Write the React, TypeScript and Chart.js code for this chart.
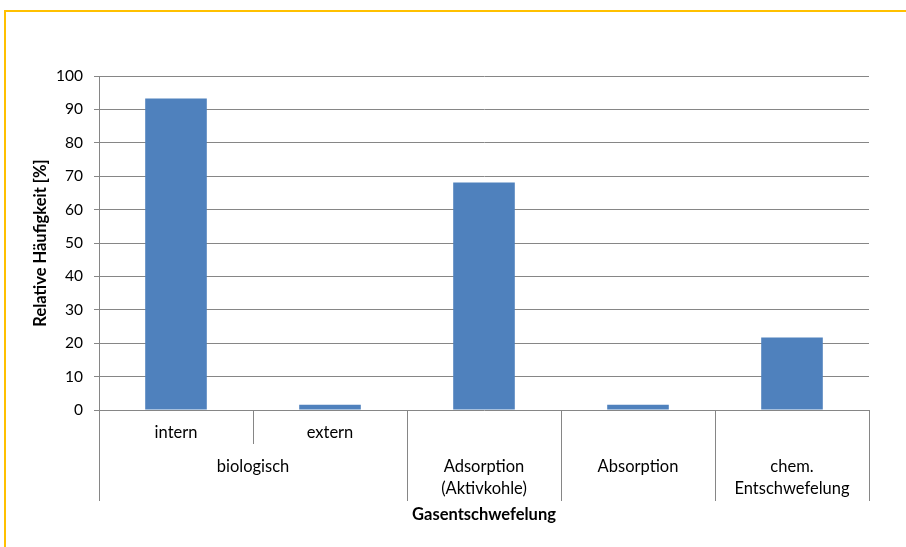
import React, { useEffect, useRef } from "react";
import { Chart, registerables } from "chart.js";

Chart.register(...registerables);

// Subcategories (first row under the axis) and their values
const categories = ["intern", "extern", "Adsorption (Aktivkohle)", "Absorption", "chem. Entschwefelung"];
const subLabels = ["intern", "extern", "", "", ""];
const values = [93.3, 1.6, 68.1, 1.6, 21.7];

// Second row: group names and how many categories each group covers
const groupLabels = [["biologisch"], ["Adsorption", "(Aktivkohle)"], ["Absorption"], ["chem.", "Entschwefelung"]];
const groupSpans = [2, 1, 1, 1];

const yTicks = { min: 0, max: 100, step: 10 };
const xTitle = "Gasentschwefelung";
const yTitle = "Relative Häufigkeit [%]";

const FONT = "Lato, 'Open Sans', sans-serif";
const LINE = "#868686";

const categoryAxisPlugin = {
  id: "categoryAxis",
  afterDraw(chart: any) {
    const { ctx, chartArea, scales } = chart;
    const x = scales.x;
    const n = categories.length;
    const w = (chartArea.right - chartArea.left) / n;
    const edge = (i: number) => x.getPixelForValue(0) - w / 2 + i * w;
    const base = chartArea.bottom;
    const subBottom = base + 34;
    const groupBottom = base + 91;

    ctx.save();
    ctx.strokeStyle = LINE;
    ctx.lineWidth = 1;

    // separators inside groups (short) and between groups (long)
    let pos = 0;
    const groupEdges = [0];
    groupSpans.forEach((s) => {
      pos += s;
      groupEdges.push(pos);
    });
    for (let i = 0; i <= n; i++) {
      const px = Math.round(edge(i)) + 0.5;
      const long = groupEdges.includes(i);
      ctx.beginPath();
      ctx.moveTo(px, base);
      ctx.lineTo(px, long ? groupBottom : subBottom);
      ctx.stroke();
    }

    ctx.fillStyle = "#000";
    ctx.textAlign = "center";
    ctx.textBaseline = "middle";
    ctx.font = `16.5px ${FONT}`;

    // first row
    subLabels.forEach((lbl, i) => {
      if (lbl) ctx.fillText(lbl, x.getPixelForValue(i), base + 23);
    });

    // second row
    groupLabels.forEach((lines, g) => {
      const from = groupEdges[g];
      const to = groupEdges[g + 1];
      const cx = (edge(from) + edge(to)) / 2;
      lines.forEach((t, k) => ctx.fillText(t, cx, base + 57 + k * 22));
    });

    // axis titles
    ctx.font = `bold 16.5px ${FONT}`;
    ctx.fillText(xTitle, (chartArea.left + chartArea.right) / 2, base + 105);

    ctx.translate(41, (chartArea.top + chartArea.bottom) / 2);
    ctx.rotate(-Math.PI / 2);
    ctx.fillText(yTitle, 0, 0);
    ctx.restore();
  },
};

export default function App() {
  const canvasRef = useRef<HTMLCanvasElement | null>(null);

  useEffect(() => {
    if (!canvasRef.current) return;
    const chart = new Chart(canvasRef.current, {
      type: "bar",
      data: {
        labels: categories,
        datasets: [
          {
            data: values,
            backgroundColor: "#4F81BD",
            borderWidth: 0,
            categoryPercentage: 1,
            barPercentage: 0.4,
          },
        ],
      },
      options: {
        responsive: false,
        animation: false,
        devicePixelRatio: 1,
        layout: { padding: { top: 76, right: 37, bottom: 137, left: 0 } },
        plugins: { legend: { display: false }, tooltip: { enabled: false } },
        scales: {
          x: { display: false },
          y: {
            min: yTicks.min,
            max: yTicks.max,
            afterFit: (s: any) => {
              s.width = 99;
            },
            ticks: {
              stepSize: yTicks.step,
              color: "#000",
              padding: 11,
              font: { family: FONT, size: 15.5 },
            },
            grid: { color: LINE, lineWidth: 1, tickLength: 5, drawTicks: true },
            border: { display: true, color: LINE, width: 1 },
          },
        },
      },
      plugins: [categoryAxisPlugin],
    });
    return () => chart.destroy();
  }, []);

  return (
    <div style={{ position: "fixed", left: 0, top: 0, width: 906, height: 547, background: "#fff" }}>
      <canvas ref={canvasRef} width={906} height={547} style={{ position: "absolute", left: 0, top: 0 }} />
      <div
        style={{
          position: "absolute",
          left: 4,
          top: 10,
          right: 0,
          bottom: 0,
          borderLeft: "2px solid #FFC000",
          borderTop: "2px solid #FFC000",
          pointerEvents: "none",
        }}
      />
    </div>
  );
}
